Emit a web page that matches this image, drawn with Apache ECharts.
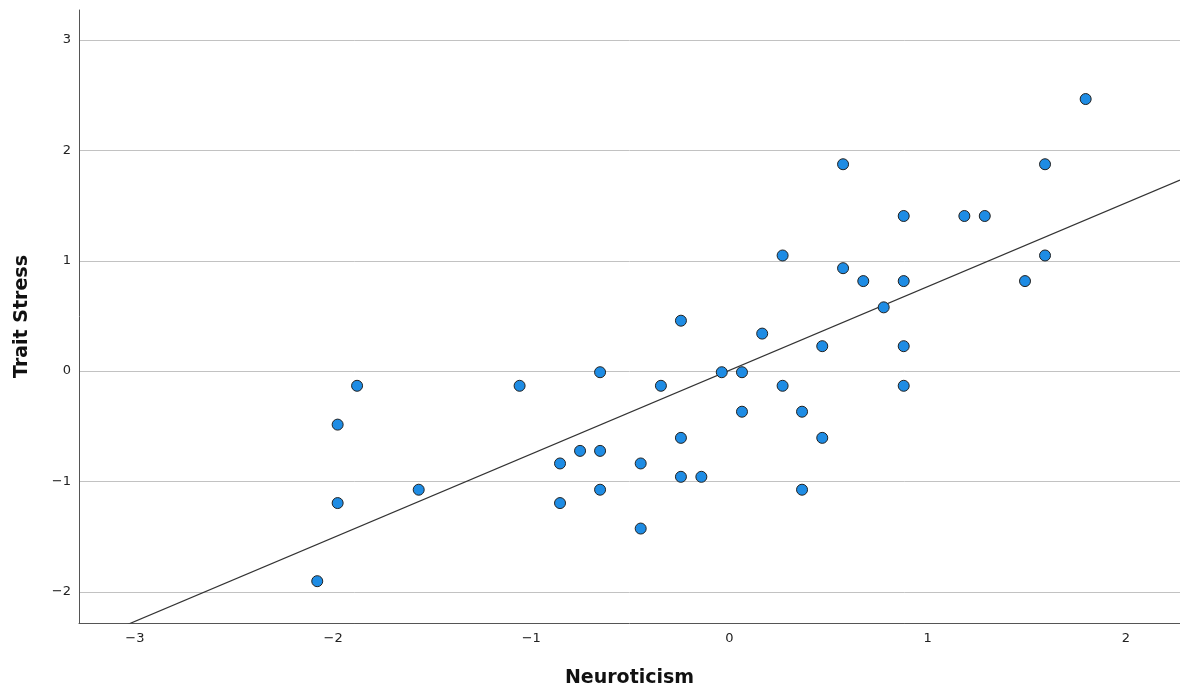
<!DOCTYPE html>
<html>
<head>
<meta charset="utf-8">
<script src="https://cdn.jsdelivr.net/npm/echarts@6/dist/echarts.min.js"></script>
<style>html,body{margin:0;padding:0;background:#fff}#c{width:1180px;height:693px}</style>
</head>
<body>
<div id="c"></div>
<script>
// Neuroticism (x) values
const neuroticism = [
  1.797, 0.573, 1.592, 0.879, 1.185, 1.288, 0.268, 1.592, 0.573, 0.675,
  0.879, 1.491, 0.778, -0.245, 0.165, 0.468, 0.879, -0.653, -0.039, 0.063,
  -1.879, -1.059, -0.346, 0.268, 0.879, -1.977, 0.063, 0.366, -0.245, 0.468,
  -0.754, -0.653, -0.855, -0.448, -0.245, -0.142, -1.568, -0.653, 0.366, -1.977,
  -0.855, -0.448, -2.080
];
// Trait Stress (y) values
const traitStress = [
  2.466, 1.875, 1.875, 1.406, 1.406, 1.406, 1.048, 1.048, 0.933, 0.816,
  0.816, 0.816, 0.578, 0.457, 0.340, 0.226, 0.226, -0.010, -0.010, -0.010,
  -0.133, -0.133, -0.133, -0.133, -0.133, -0.485, -0.368, -0.368, -0.605, -0.605,
  -0.723, -0.723, -0.837, -0.837, -0.958, -0.958, -1.075, -1.075, -1.075, -1.196,
  -1.196, -1.427, -1.904
];
const xTicks = [-3, -2, -1, 0, 1, 2];
const yTicks = [-2, -1, 0, 1, 2, 3];
const xName = 'Neuroticism';
const yName = 'Trait Stress';
const xRange = [-3.282, 2.273];
const yRange = [-2.283, 3.273];

// least-squares fit from the data
const n = neuroticism.length;
const mx = neuroticism.reduce((a, b) => a + b, 0) / n;
const my = traitStress.reduce((a, b) => a + b, 0) / n;
let sxy = 0, sxx = 0;
for (let i = 0; i < n; i++) { sxy += (neuroticism[i] - mx) * (traitStress[i] - my); sxx += (neuroticism[i] - mx) ** 2; }
const slope = sxy / sxx, intercept = my - slope * mx;
const fitLine = [[xRange[0], intercept + slope * xRange[0]], [xRange[1], intercept + slope * xRange[1]]];

const pts = neuroticism.map((x, i) => [x, traitStress[i]]);
const font = 'DejaVu Sans';
const chart = echarts.init(document.getElementById('c'), null, {renderer: 'canvas'});
chart.setOption({
  animation: false,
  backgroundColor: '#fff',
  grid: {left: 79, right: 0, top: 10, bottom: 68, containLabel: false},
  xAxis: {
    type: 'value', min: xRange[0], max: xRange[1],
    name: xName, nameLocation: 'middle', nameGap: 46,
    nameTextStyle: {fontFamily: font, fontWeight: 'bold', fontSize: 19, color: '#111'},
    axisLine: {show: true, onZero: false, lineStyle: {color: '#555', width: 1}},
    axisTick: {show: false},
    splitLine: {show: false},
    axisLabel: {
      fontFamily: font, fontSize: 13, color: '#222', margin: 9,
      customValues: xTicks,
      formatter: v => String(v).replace('-', '\u2212')
    }
  },
  yAxis: {
    type: 'value', min: yRange[0], max: yRange[1],
    name: yName, nameLocation: 'middle', nameGap: 47,
    nameTextStyle: {fontFamily: font, fontWeight: 'bold', fontSize: 19, color: '#111'},
    axisLine: {show: true, onZero: false, lineStyle: {color: '#555', width: 1}},
    axisTick: {show: false, customValues: yTicks},
    splitLine: {show: true, lineStyle: {color: '#c2c2c2', width: 1}},
    axisLabel: {
      fontFamily: font, fontSize: 13, color: '#222', margin: 8,
      customValues: yTicks,
      formatter: v => String(v).replace('-', '\u2212')
    }
  },
  series: [
    {
      type: 'line', data: fitLine, symbol: 'none', clip: true,
      lineStyle: {color: '#333', width: 1.2}, silent: true, z: 2
    },
    {
      type: 'scatter', data: pts, symbol: 'circle', symbolSize: 11,
      itemStyle: {color: '#1e8ce4', borderColor: '#222', borderWidth: 1, opacity: 1}, z: 3
    }
  ]
});
</script>
</body>
</html>
